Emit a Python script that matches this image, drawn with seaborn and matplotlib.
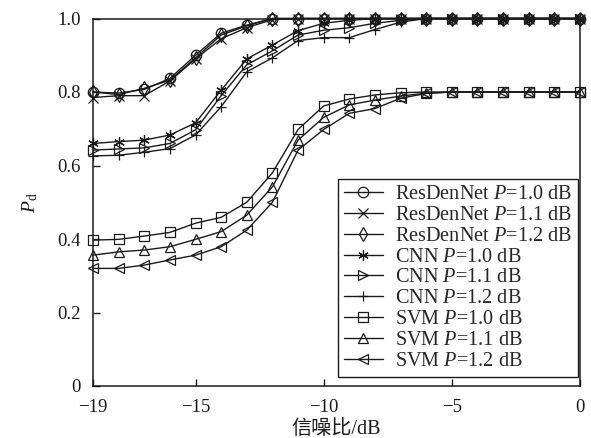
import numpy as np
import pandas as pd
import matplotlib
matplotlib.use("Agg")
import matplotlib.pyplot as plt
import seaborn as sns

snr = list(range(-19, 1))

res_10 = [0.800, 0.797, 0.807, 0.837, 0.900, 0.960, 0.982] + [1.0] * 13
res_11 = [0.785, 0.790, 0.790, 0.830, 0.890, 0.945, 0.975, 0.997] + [1.0] * 12
res_12 = [0.800, 0.793, 0.810, 0.832, 0.893, 0.955, 0.980] + [1.0] * 13

cnn_10 = [0.660, 0.665, 0.669, 0.683, 0.716, 0.805, 0.890, 0.928, 0.967, 0.987, 0.995] + [1.0] * 9
cnn_11 = [0.642, 0.645, 0.648, 0.660, 0.697, 0.790, 0.874, 0.912, 0.955, 0.968, 0.975, 0.987, 0.995] + [1.0] * 7
cnn_12 = [0.626, 0.628, 0.636, 0.646, 0.683, 0.760, 0.855, 0.893, 0.940, 0.948, 0.948, 0.970, 0.990] + [1.0] * 7

svm_10 = [0.397, 0.399, 0.408, 0.418, 0.443, 0.459, 0.500, 0.580, 0.698, 0.762, 0.781, 0.792, 0.798] + [0.80] * 7
svm_11 = [0.356, 0.365, 0.370, 0.379, 0.399, 0.420, 0.465, 0.542, 0.669, 0.731, 0.765, 0.778, 0.789, 0.797] + [0.80] * 6
svm_12 = [0.320, 0.320, 0.329, 0.343, 0.356, 0.379, 0.424, 0.500, 0.642, 0.698, 0.742, 0.755, 0.783, 0.796] + [0.80] * 6

series = [
    ("ResDenNet $P$=1.0 dB", res_10, "o"),
    ("ResDenNet $P$=1.1 dB", res_11, "x"),
    ("ResDenNet $P$=1.2 dB", res_12, "d"),
    ("CNN $P$=1.0 dB", cnn_10, (6, 2, 0)),
    ("CNN $P$=1.1 dB", cnn_11, ">"),
    ("CNN $P$=1.2 dB", cnn_12, "+"),
    ("SVM $P$=1.0 dB", svm_10, "s"),
    ("SVM $P$=1.1 dB", svm_11, "^"),
    ("SVM $P$=1.2 dB", svm_12, "<"),
]

xticks = [-19, -15, -10, -5, 0]
xtick_labels = ["\u221219", "\u221215", "\u221210", "\u22125", "0"]
yticks = [0, 0.2, 0.4, 0.6, 0.8, 1.0]
ytick_labels = ["0", "0.2", "0.4", "0.6", "0.8", "1.0"]

sns.set_theme(style="white")
plt.rcParams["font.family"] = ["Liberation Serif", "Noto Sans CJK SC"]
plt.rcParams["mathtext.fontset"] = "custom"
plt.rcParams["mathtext.rm"] = "Liberation Serif"
plt.rcParams["mathtext.it"] = "Liberation Serif:italic"
plt.rcParams["axes.unicode_minus"] = True

fig = plt.figure(figsize=(5.91, 4.38), dpi=100)
ax = fig.add_axes([93 / 591, 52 / 438, 487 / 591, 367.5 / 438])

for label, vals, m in series:
    df = pd.DataFrame({"snr": snr, "pd": vals})
    sns.lineplot(data=df, x="snr", y="pd", ax=ax, color="k", marker=m,
                 markersize=7.5, markerfacecolor="none", markeredgecolor="k",
                 markeredgewidth=0.9, linewidth=1.0, label=label, clip_on=False)

ax.set_xlim(-19, 0)
ax.set_ylim(0, 1.0)
ax.set_xticks(xticks)
ax.set_xticklabels(xtick_labels)
ax.set_yticks(yticks)
ax.set_yticklabels(ytick_labels)
ax.tick_params(direction="in", length=5, width=1.0, labelsize=13.5, colors="k",
               top=False, right=False, bottom=True, left=True)
ax.tick_params(axis="x", pad=9)
ax.tick_params(axis="y", pad=9)
for s in ax.spines.values():
    s.set_color("k")
    s.set_linewidth(1.1)

ax.set_xlabel("信噪比/dB", fontsize=14.5, color="k", labelpad=3)
ax.set_ylabel("$P_\\mathrm{d}$", fontsize=14, color="k", labelpad=12)

leg = ax.legend(loc="lower right", bbox_to_anchor=(0.996, 0.025), borderaxespad=0,
                fontsize=14.6, labelspacing=0.08, handlelength=1.9, handletextpad=0.6,
                borderpad=0.3, frameon=True, fancybox=False, framealpha=1)
leg.get_frame().set_edgecolor("k")
leg.get_frame().set_linewidth(1.0)

fig.savefig("out.png", dpi=100)
